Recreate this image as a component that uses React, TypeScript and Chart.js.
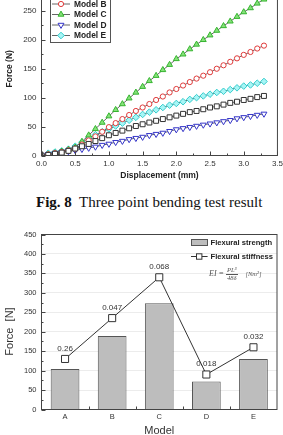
import React, { useEffect, useRef } from "react";
import { Chart, registerables } from "chart.js";

Chart.register(...registerables);

// ---- Three point bending: force vs. displacement curves ----
const displacement = [
  0.0, 0.1, 0.2, 0.3, 0.4, 0.5, 0.6, 0.7, 0.8, 0.9, 1.0, 1.1, 1.2, 1.3, 1.4, 1.5, 1.6,
  1.7, 1.8, 1.9, 2.0, 2.1, 2.2, 2.3, 2.4, 2.5, 2.6, 2.7, 2.8, 2.9, 3.0, 3.1, 3.2, 3.3,
];
const forceA = [0, 1, 3, 5, 8, 12, 16, 20, 25, 30, 35, 39, 43, 47, 51, 54, 57, 60, 63, 66, 69, 72, 75, 77, 80, 83, 85, 88, 91, 93, 96, 98, 101, 103];
const forceB = [0, 2, 4, 6, 9, 12, 19, 26, 33, 41, 49, 56, 63, 70, 77, 83, 89, 96, 102, 109, 115, 121, 127, 133, 138, 144, 150, 156, 162, 168, 174, 179, 185, 190];
const forceC = [0, 2, 4, 7, 10, 14, 24, 35, 46, 57, 68, 79, 89, 99, 109, 119, 129, 138, 148, 157, 167, 175, 184, 192, 200, 208, 216, 224, 232, 240, 248, 255, 263, 270];
const forceD = [0, 2, 4, 5, 7, 9, 11, 13, 15, 18, 20, 23, 25, 28, 30, 32, 35, 37, 39, 42, 45, 47, 49, 51, 53, 55, 57, 59, 61, 64, 66, 68, 70, 72];
const forceE = [0, 4, 6, 8, 11, 16, 23, 30, 36, 41, 46, 51, 56, 61, 66, 71, 75, 79, 83, 87, 90, 93, 97, 100, 103, 106, 109, 111, 114, 117, 120, 122, 125, 128];
const curveNames = ["Model A", "Model B", "Model C", "Model D", "Model E"];

// ---- Per-model summary ----
const models = ["A", "B", "C", "D", "E"];
const flexuralStrength = [104, 189, 273, 72, 130];
const flexuralStiffness = [0.026, 0.047, 0.068, 0.018, 0.032];
const stiffnessLabels = ["0.26", "0.047", "0.068", "0.018", "0.032"];

const SANS = "'Liberation Sans', Arial, sans-serif";

type Marker = {
  style: string;
  radius: number;
  rotation: number;
  fill: string;
  stroke: string;
};

const curveMarkers: Marker[] = [
  { style: "rect", radius: 3.5, rotation: 0, fill: "#ffffff", stroke: "#333333" },
  { style: "circle", radius: 2.6, rotation: 0, fill: "#ffffff", stroke: "#e03a3a" },
  { style: "triangle", radius: 3.4, rotation: 0, fill: "#86e07a", stroke: "#35b52f" },
  { style: "triangle", radius: 3.4, rotation: 180, fill: "#ffffff", stroke: "#3535c8" },
  { style: "rectRot", radius: 3.3, rotation: 0, fill: "#a8f5f5", stroke: "#33cccc" },
];

function drawMarker(ctx: CanvasRenderingContext2D, m: Marker, x: number, y: number, r = m.radius) {
  ctx.save();
  ctx.fillStyle = m.fill;
  ctx.strokeStyle = m.stroke;
  ctx.lineWidth = 1;
  ctx.beginPath();
  if (m.style === "circle") {
    ctx.arc(x, y, r, 0, Math.PI * 2);
  } else if (m.style === "rect") {
    const s = r * Math.SQRT1_2;
    ctx.rect(x - s, y - s, 2 * s, 2 * s);
  } else if (m.style === "rectRot") {
    ctx.moveTo(x, y - r);
    ctx.lineTo(x + r, y);
    ctx.lineTo(x, y + r);
    ctx.lineTo(x - r, y);
    ctx.closePath();
  } else {
    let a = (m.rotation * Math.PI) / 180;
    ctx.moveTo(x + Math.sin(a) * r, y - Math.cos(a) * r);
    a += (2 * Math.PI) / 3;
    ctx.lineTo(x + Math.sin(a) * r, y - Math.cos(a) * r);
    a += (2 * Math.PI) / 3;
    ctx.lineTo(x + Math.sin(a) * r, y - Math.cos(a) * r);
    ctx.closePath();
  }
  ctx.fill();
  ctx.stroke();
  ctx.restore();
}

// Box around the plot plus inward major/minor ticks on the bottom and left axes
function framePlugin(id: string, categoryX: boolean) {
  return {
    id,
    afterDatasetsDraw(chart: any) {
      const { ctx, chartArea: a, scales } = chart;
      ctx.save();
      ctx.strokeStyle = "#444";
      ctx.lineWidth = 1;
      ctx.strokeRect(a.left, a.top, a.right - a.left, a.bottom - a.top);

      const ys = scales.y;
      const yVals = ys.ticks.map((t: any) => t.value);
      ctx.beginPath();
      yVals.forEach((v: number, i: number) => {
        const py = Math.round(ys.getPixelForValue(v)) + 0.5;
        ctx.moveTo(a.left, py);
        ctx.lineTo(a.left + 4, py);
        if (i < yVals.length - 1) {
          const pm = Math.round(ys.getPixelForValue((v + yVals[i + 1]) / 2)) + 0.5;
          ctx.moveTo(a.left, pm);
          ctx.lineTo(a.left + 2, pm);
        }
      });

      const xs = scales.x;
      if (categoryX) {
        const n = xs.ticks.length;
        for (let i = 0; i < n - 1; i++) {
          const px = Math.round((xs.getPixelForValue(i) + xs.getPixelForValue(i + 1)) / 2) + 0.5;
          ctx.moveTo(px, a.bottom);
          ctx.lineTo(px, a.bottom - 3);
        }
      } else {
        const xVals = xs.ticks.map((t: any) => t.value);
        xVals.forEach((v: number, i: number) => {
          const px = Math.round(xs.getPixelForValue(v)) + 0.5;
          ctx.moveTo(px, a.bottom);
          ctx.lineTo(px, a.bottom - 4);
          if (i < xVals.length - 1) {
            const pm = Math.round(xs.getPixelForValue((v + xVals[i + 1]) / 2)) + 0.5;
            ctx.moveTo(pm, a.bottom);
            ctx.lineTo(pm, a.bottom - 2);
          }
        });
      }
      ctx.stroke();
      ctx.restore();
    },
  };
}

// Boxed legend for the force-displacement curves
const curveLegendPlugin = {
  id: "curveLegend",
  afterDraw(chart: any) {
    const { ctx, chartArea: a } = chart;
    const left = a.left + 8.5;
    const top = a.top + 5;
    ctx.save();
    ctx.fillStyle = "#fff";
    ctx.strokeStyle = "#555";
    ctx.lineWidth = 1;
    ctx.fillRect(left, top, 60, 55);
    ctx.strokeRect(Math.round(left) + 0.5, Math.round(top) + 0.5, 60, 55);
    ctx.font = `bold 8.4px ${SANS}`;
    ctx.textBaseline = "middle";
    curveNames.forEach((name, i) => {
      const y = a.top + 11.5 + i * 10.5;
      ctx.strokeStyle = "#666";
      ctx.beginPath();
      ctx.moveTo(left + 2, y);
      ctx.lineTo(left + 20, y);
      ctx.stroke();
      drawMarker(ctx, curveMarkers[i], left + 11, y);
      ctx.fillStyle = "#222";
      ctx.fillText(name, left + 24, y + 0.5);
    });
    ctx.restore();
  },
};

// Legend for the bar / line summary chart
const summaryLegendPlugin = {
  id: "summaryLegend",
  afterDraw(chart: any) {
    const { ctx, chartArea: a } = chart;
    const x0 = a.right - 86;
    ctx.save();
    ctx.fillStyle = "#bdbdbd";
    ctx.strokeStyle = "#555";
    ctx.lineWidth = 1;
    ctx.fillRect(x0, a.top + 4.5, 16.6, 6);
    ctx.strokeRect(Math.round(x0) + 0.5, Math.round(a.top + 4.5) + 0.5, 16, 6);

    const ly = Math.round(a.top + 21.5) + 0.5;
    ctx.strokeStyle = "#333";
    ctx.beginPath();
    ctx.moveTo(x0, ly);
    ctx.lineTo(x0 + 16.6, ly);
    ctx.stroke();
    ctx.fillStyle = "#fff";
    ctx.fillRect(x0 + 5.5, ly - 2.7, 5.4, 5.4);
    ctx.strokeRect(x0 + 5.5, ly - 2.7, 5.4, 5.4);

    ctx.fillStyle = "#222";
    ctx.font = `bold 7.6px ${SANS}`;
    ctx.textBaseline = "middle";
    ctx.fillText("Flexural strength", a.right - 66.5, a.top + 8.4);
    ctx.fillText("Flexural stiffness", a.right - 66.5, ly + 0.3);
    ctx.restore();
  },
};

// Value labels above the stiffness markers
const stiffnessLabelPlugin = {
  id: "stiffnessLabels",
  afterDatasetsDraw(chart: any) {
    const { ctx } = chart;
    const meta = chart.getDatasetMeta(1);
    ctx.save();
    ctx.font = `8px ${SANS}`;
    ctx.fillStyle = "#333";
    ctx.textAlign = "center";
    ctx.textBaseline = "middle";
    meta.data.forEach((pt: any, i: number) => {
      ctx.fillText(stiffnessLabels[i], pt.x, pt.y - 10.5);
    });
    ctx.restore();
  },
};

// Rotated y-axis title, placed a little below the plot's centre line
const forceTitlePlugin = {
  id: "forceTitle",
  afterDraw(chart: any) {
    const { ctx, chartArea: a } = chart;
    ctx.save();
    ctx.translate(10, (a.top + a.bottom) / 2 + 9.5);
    ctx.rotate(-Math.PI / 2);
    ctx.font = `11px ${SANS}`;
    ctx.fillStyle = "#333";
    ctx.textAlign = "center";
    ctx.textBaseline = "middle";
    ctx.fillText("Force  [N]", 0, 0);
    ctx.restore();
  },
};

export default function App() {
  const curveRef = useRef<HTMLCanvasElement>(null);
  const summaryRef = useRef<HTMLCanvasElement>(null);

  useEffect(() => {
    const series = [forceA, forceB, forceC, forceD, forceE];

    const curveChart = new Chart(curveRef.current as HTMLCanvasElement, {
      type: "scatter",
      data: {
        datasets: series.map((vals, i) => ({
          label: curveNames[i],
          data: displacement.map((d, k) => ({ x: d, y: vals[k] })),
          showLine: true,
          borderColor: "#666",
          borderWidth: 1,
          pointStyle: curveMarkers[i].style as any,
          pointRadius: curveMarkers[i].radius,
          pointRotation: curveMarkers[i].rotation,
          pointBackgroundColor: curveMarkers[i].fill,
          pointBorderColor: curveMarkers[i].stroke,
          pointBorderWidth: 1,
        })),
      },
      options: {
        responsive: false,
        animation: false,
        devicePixelRatio: 1,
        layout: { padding: { top: 12, right: 7.5, bottom: 0, left: 0 } },
        plugins: { legend: { display: false }, tooltip: { enabled: false } },
        scales: {
          x: {
            type: "linear",
            min: 0,
            max: 3.5,
            grid: { display: false, drawTicks: false },
            border: { display: false },
            ticks: {
              stepSize: 0.5,
              padding: 3,
              color: "#333",
              font: { family: SANS, size: 8 },
              callback: (v: any) => Number(v).toFixed(1),
            },
            title: {
              display: true,
              text: "Displacement (mm)",
              color: "#222",
              font: { family: SANS, size: 8.5, weight: "bold" },
              padding: { top: 0, bottom: 8.9 },
            },
            afterFit: (s: any) => {
              s.height = 34.5;
            },
          },
          y: {
            type: "linear",
            min: 0,
            max: 300,
            grid: { display: false, drawTicks: false },
            border: { display: false },
            ticks: {
              stepSize: 50,
              padding: 5,
              color: "#333",
              font: { family: SANS, size: 8 },
            },
            title: {
              display: true,
              text: "Force (N)",
              color: "#222",
              font: { family: SANS, size: 8.5, weight: "bold" },
              padding: { top: 4.9, bottom: 0 },
            },
            afterFit: (s: any) => {
              s.width = 41.5;
            },
          },
        },
      },
      plugins: [framePlugin("curveFrame", false), curveLegendPlugin],
    } as any);

    const summaryChart = new Chart(summaryRef.current as HTMLCanvasElement, {
      type: "bar",
      data: {
        labels: models,
        datasets: [
          {
            type: "bar",
            label: "Flexural strength",
            data: flexuralStrength,
            yAxisID: "y",
            backgroundColor: "#bdbdbd",
            borderColor: "#555",
            borderWidth: 1,
            barPercentage: 0.61,
            categoryPercentage: 1,
            order: 1,
          },
          {
            type: "line",
            label: "Flexural stiffness",
            data: flexuralStiffness,
            yAxisID: "y1",
            borderColor: "#333",
            borderWidth: 1,
            pointStyle: "rect",
            pointRadius: 5,
            pointBackgroundColor: "#fff",
            pointBorderColor: "#333",
            pointBorderWidth: 1,
            order: 0,
          },
        ],
      },
      options: {
        responsive: false,
        animation: false,
        devicePixelRatio: 1,
        layout: { padding: { top: 14.5, right: 4.5, bottom: 0, left: 0 } },
        plugins: { legend: { display: false }, tooltip: { enabled: false } },
        scales: {
          x: {
            grid: { display: false, drawTicks: false },
            border: { display: false },
            ticks: {
              padding: 3,
              color: "#333",
              font: { family: SANS, size: 7.5 },
            },
            title: {
              display: true,
              text: "Model",
              color: "#333",
              font: { family: SANS, size: 11 },
              padding: { top: 0, bottom: 4.7 },
            },
            afterFit: (s: any) => {
              s.height = 32.5;
            },
          },
          y: {
            min: 0,
            max: 450,
            grid: { color: "#ececec", drawTicks: false },
            border: { display: false },
            ticks: {
              stepSize: 50,
              padding: 5,
              color: "#333",
              font: { family: SANS, size: 7.5 },
            },
            afterFit: (s: any) => {
              s.width = 41.5;
            },
          },
          y1: {
            type: "linear",
            display: false,
            min: 0,
            max: 0.09,
          },
        },
      },
      plugins: [framePlugin("summaryFrame", true), stiffnessLabelPlugin, summaryLegendPlugin, forceTitlePlugin],
    } as any);

    return () => {
      curveChart.destroy();
      summaryChart.destroy();
    };
  }, []);

  return (
    <div
      style={{
        position: "absolute",
        left: 0,
        top: 0,
        width: 283,
        height: 435,
        overflow: "hidden",
        background: "#fff",
      }}
    >
      <canvas
        ref={curveRef}
        width={286}
        height={220}
        style={{ position: "absolute", left: 0, top: -30, width: 286, height: 220, display: "block" }}
      />
      <div
        style={{
          position: "absolute",
          left: 36,
          top: 194.5,
          whiteSpace: "pre",
          fontFamily: "'Liberation Serif', 'Times New Roman', serif",
          fontSize: 15,
          lineHeight: "15px",
          color: "#111",
        }}
      >
        <b>Fig. 8</b>
        {"  Three point bending test result"}
      </div>
      <canvas
        ref={summaryRef}
        width={283}
        height={222}
        style={{ position: "absolute", left: 0, top: 220, width: 283, height: 222, display: "block" }}
      />
      <div
        style={{
          position: "absolute",
          left: 209,
          top: 266,
          height: 16,
          display: "flex",
          alignItems: "center",
          fontFamily: "'Liberation Serif', 'Times New Roman', serif",
          fontStyle: "italic",
          color: "#555",
          fontSize: 8,
          lineHeight: 1,
          whiteSpace: "pre",
        }}
      >
        <span>{"EI = "}</span>
        <span
          style={{
            display: "inline-flex",
            flexDirection: "column",
            alignItems: "center",
            fontSize: 6.5,
          }}
        >
          <span style={{ borderBottom: "0.7px solid #555", padding: "0 1px 0.5px" }}>PL³</span>
          <span style={{ paddingTop: 0.5 }}>48δ</span>
        </span>
        <span style={{ marginLeft: 8, fontSize: 6.5 }}>[Nm²]</span>
      </div>
    </div>
  );
}
